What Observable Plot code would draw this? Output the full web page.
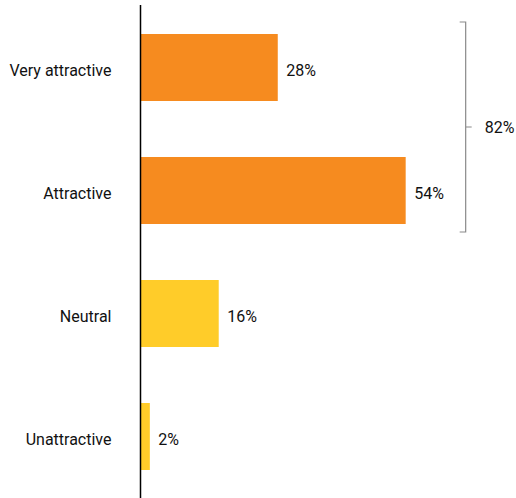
<!DOCTYPE html>
<html>
<head>
<meta charset="utf-8">
<script src="https://cdn.jsdelivr.net/npm/d3@7"></script>
<script src="https://cdn.jsdelivr.net/npm/@observablehq/plot@0.6"></script>
<style>
  html, body { margin: 0; padding: 0; background: #fff; }
  #chart svg { display: block; }
</style>
</head>
<body>
<div id="chart"></div>
<script>
const categories = ["Very attractive", "Attractive", "Neutral", "Unattractive"];
const values = [28, 54, 16, 2];
const groups = ["positive", "positive", "neutral", "neutral"];
const bracketMembers = ["Very attractive", "Attractive"];
const bracketLabel = "82%";

const colors = { positive: "#F68B1F", neutral: "#FFCC29" };
const data = categories.map((c, i) => ({ category: c, value: values[i], group: groups[i] }));

const FONT = "Roboto, 'Noto Sans', sans-serif";

const plot = Plot.plot({
  width: 516,
  height: 498,
  marginLeft: 140,
  marginRight: 0,
  marginTop: 5,
  marginBottom: 0,
  style: { fontFamily: FONT, fontSize: "16px", color: "#111", background: "#fff" },
  x: { domain: [0, 100], range: [140, 632], axis: null },
  y: { domain: categories, paddingInner: 0.457, paddingOuter: 0.227, label: null, axis: null },
  color: { domain: Object.keys(colors), range: Object.values(colors) },
  marks: [
    Plot.barX(data, { y: "category", x: "value", fill: "group" }),
    Plot.axisY({ tickSize: 0, tickPadding: 29, dy: 3, fontSize: 16, fill: "#111", label: null }),
    Plot.text(data, { y: "category", x: "value", text: d => d.value + "%", textAnchor: "start", dx: 8, dy: 3, fill: "#111", fontSize: 16 }),
    Plot.ruleX([0], { stroke: "#000", strokeWidth: 1.5 })
  ]
});

document.getElementById("chart").appendChild(plot);

// Bracket annotation built from the plot's own scales
(function () {
  const xs = plot.scale("x");
  const ys = plot.scale("y");
  const bw = ys.bandwidth;
  const yTop = ys.apply(bracketMembers[0]) - 12;
  const yBottom = ys.apply(bracketMembers[bracketMembers.length - 1]) + bw + 8;
  const maxVal = d3.max(data.filter(d => bracketMembers.includes(d.category)), d => d.value);
  const bx = xs.apply(maxVal) + 60;
  const mid = (yTop + yBottom) / 2;
  const svg = d3.select(plot);
  const g = svg.append("g").attr("fill", "none").attr("stroke", "#8a8a8a").attr("stroke-width", 1.2);
  g.append("path").attr("d", `M${bx - 6},${yTop}H${bx}V${yBottom}H${bx - 6}M${bx},${mid}H${bx + 6}`);
  svg.append("text")
    .attr("x", bx + 19).attr("y", mid).attr("dy", 5.5)
    .style("font-family", FONT).style("font-size", "16px").style("text-anchor", "start")
    .attr("text-anchor", "start").attr("fill", "#111")
    .text(bracketLabel);
})();
</script>
</body>
</html>
